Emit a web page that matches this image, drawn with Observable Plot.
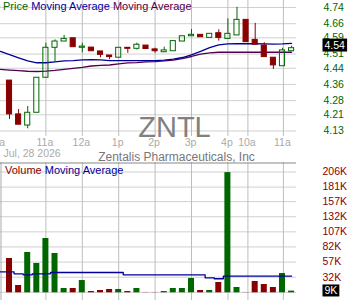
<!DOCTYPE html>
<html><head><meta charset="utf-8">
<script src="https://cdn.jsdelivr.net/npm/d3@7"></script>
<script src="https://cdn.jsdelivr.net/npm/@observablehq/plot@0.6"></script>
<style>
body{margin:0;background:#fff;}
#wrap{position:relative;width:350px;height:300px;overflow:hidden;font-family:"Liberation Sans",Arial,sans-serif;background:#fff;}
#price,#vol{position:absolute;left:0;}
#price{top:0}
#vol{top:162px}
.leg{position:absolute;left:3px;font-size:11px;line-height:11px;white-space:nowrap;}
</style></head><body>
<div id="wrap">
 <div id="price"></div><div id="vol"></div>
 <div class="leg" style="top:1px"><span style="color:#006600">Price</span> <span style="color:#000099">Moving Average</span> <span style="color:#550044">Moving Average</span></div>
 <div class="leg" style="top:165px;left:5px"><span style="color:#880000">Volume</span> <span style="color:#000099">Moving Average</span></div>
</div>
<script>
// ---- data ----
const opens  = [4.379,4.212,4.157,4.220,4.393,4.541,4.572,4.588,4.541,4.542,4.523,4.503,4.492,4.541,4.536,4.552,4.533,4.519,4.524,4.572,4.598,4.605,4.590,4.613,4.585,4.602,4.679,4.580,4.552,4.492,4.450,4.524];
const highs  = [4.379,4.236,4.251,4.393,4.564,4.580,4.602,4.588,4.564,4.542,4.523,4.503,4.541,4.541,4.564,4.552,4.539,4.544,4.574,4.598,4.631,4.605,4.610,4.630,4.684,4.741,4.679,4.662,4.566,4.492,4.539,4.549];
const lows   = [4.187,4.161,4.141,4.220,4.393,4.470,4.572,4.544,4.516,4.524,4.492,4.482,4.492,4.514,4.530,4.535,4.514,4.519,4.524,4.572,4.598,4.593,4.590,4.574,4.585,4.602,4.569,4.556,4.495,4.434,4.450,4.524];
const closes = [4.212,4.161,4.220,4.393,4.541,4.572,4.585,4.544,4.547,4.524,4.506,4.495,4.541,4.536,4.556,4.535,4.524,4.528,4.574,4.598,4.605,4.593,4.610,4.590,4.610,4.679,4.569,4.556,4.495,4.454,4.528,4.539];
const volumes = [62.9,18.3,72.9,54.7,96,71.2,13.3,13.3,26.5,8.3,10,11.7,11.7,8.3,13.3,6.5,6.5,8.3,13.3,13.3,29.9,10,10,23.2,205,15,6.5,24.9,19.9,15,38.1,9]; // thousands
// moving averages, index -1 .. 31
const priceMA1 = [4.523,4.507,4.491,4.476,4.467,4.467,4.471,4.476,4.478,4.481,4.482,4.481,4.478,4.478,4.478,4.478,4.478,4.478,4.480,4.485,4.493,4.506,4.523,4.542,4.555,4.560,4.561,4.561,4.561,4.560,4.559,4.560,4.563];
const priceMA2 = [4.434,4.431,4.428,4.425,4.424,4.426,4.429,4.434,4.439,4.444,4.451,4.454,4.456,4.462,4.466,4.468,4.471,4.473,4.476,4.480,4.488,4.498,4.510,4.516,4.519,4.519,4.519,4.519,4.519,4.519,4.519,4.519,4.519];
const volumeMA = [40.9,40.9,37.6,36,37.6,37.6,39.8,39.8,39.8,39.8,39.8,39.8,39.8,39.8,36,36,36,36,36,36,36,36,36,31,29.4,33.7,33.7,33.7,33.7,33.7,33.7,33.7,33.7];
const priceTicks = [4.13,4.21,4.28,4.36,4.44,4.51,4.59,4.66,4.74];
const volGridTicks = [7,32,57,82,107,132,157,181,206];
const volLabelTicks = [32,57,82,107,132,157,181,206];
const timeTickPos = [-1.35,4,8,12,16,20,24,26.2,30.1];
const timeTickLabels = ["10a","11a","12a","1p","2p","3p","4p","10a","11a"];
const dateLabel = "Jul, 28 2026";
const symbol = "ZNTL";
const company = "Zentalis Pharmaceuticals, Inc";

// ---- build ----
const GREEN = "#006600", RED = "#880000";
const FONT = "'Liberation Sans', Arial, sans-serif";
const candles = opens.map((o, i) => ({i, o, h: highs[i], l: lows[i], c: closes[i], up: closes[i] >= o, v: volumes[i]}));
const ma1 = priceMA1.map((v, k) => ({i: k - 1, v}));
const ma2 = priceMA2.map((v, k) => ({i: k - 1, v}));
const vma = volumeMA.map((v, k) => ({i: k - 1, v}));
const labelMap = new Map(timeTickPos.map((p, k) => [p, timeTickLabels[k]]));
const xDomain = [-0.99, 31.54];
const pDomain = [4.1028, 4.7746];
const vDomain = [6.2, 221.7];
const last = candles[candles.length - 1];
const hw = 0.28;

const price = Plot.plot({
  width: 350, height: 165, marginLeft: 0, marginRight: 54, marginTop: 0, marginBottom: 29,
  x: {domain: xDomain, axis: null, label: null},
  y: {domain: pDomain, axis: null, label: null},
  style: {fontFamily: FONT, fontSize: "10.5px", background: "transparent"},
  marks: [
    Plot.gridY(priceTicks, {stroke: "#d0d0d0", strokeOpacity: 1}),
    Plot.gridX(timeTickPos, {stroke: "#bdbdbd", strokeOpacity: 1}),
    Plot.text([symbol], {frameAnchor: "bottom", dx: 26, dy: -9, lineAnchor: "middle", fontSize: 29, fill: "#808080"}),
    Plot.axisY(priceTicks, {anchor: "right", label: null, tickSize: 0, tickPadding: 27, tickFormat: d => d.toFixed(2), fill: GREEN}),
    Plot.axisX(timeTickPos, {anchor: "bottom", label: null, tickSize: 0, tickPadding: 2.5, tickFormat: d => labelMap.get(d), fill: "#aaaaaa", dx: -1}),
    Plot.text([dateLabel], {frameAnchor: "bottom-left", dx: 3, dy: 17.3, lineAnchor: "middle", textAnchor: "start", fill: "#aaaaaa"}),
    Plot.text([company], {frameAnchor: "bottom", dx: 28, dy: 20.2, lineAnchor: "middle", fontSize: 12, fill: "#777777"}),
    Plot.line(ma2, {x: "i", y: "v", stroke: "#500050", strokeWidth: 1.3}),
    Plot.line(ma1, {x: "i", y: "v", stroke: "#000099", strokeWidth: 1.3}),
    Plot.ruleX(candles, {x: "i", y1: d => Math.max(d.o, d.c), y2: "h", stroke: d => d.up ? GREEN : RED}),
    Plot.ruleX(candles, {x: "i", y1: "l", y2: d => Math.min(d.o, d.c), stroke: d => d.up ? GREEN : RED}),
    Plot.rect(candles, {x1: d => d.i - hw, x2: d => d.i + hw, y1: "o", y2: "c",
      fill: d => d.up ? "none" : RED, stroke: d => d.up ? GREEN : RED, strokeWidth: 1}),
    Plot.text([last], {y: "c", frameAnchor: "right", dx: 28, dy: -2.5, textAnchor: "start", fill: "#fffffe", text: d => d.c.toFixed(2)})
  ]
});

const vol = Plot.plot({
  width: 350, height: 138, marginLeft: 0, marginRight: 54, marginTop: 0, marginBottom: 7.7,
  x: {domain: xDomain, axis: null, label: null},
  y: {domain: vDomain, axis: null, label: null},
  style: {fontFamily: FONT, fontSize: "10.5px", background: "transparent"},
  marks: [
    Plot.gridY(volGridTicks, {stroke: "#d0d0d0", strokeOpacity: 1}),
    Plot.ruleX(timeTickPos, {stroke: "#bdbdbd", insetBottom: -8}),
    Plot.ruleX([xDomain[0]], {stroke: "#aaaaaa", dx: 0.5, insetBottom: -8}),
    Plot.ruleY([vDomain[1]], {stroke: "#888888", dy: 0.5}),
    Plot.rect(candles, {x1: d => d.i - 0.33, x2: d => d.i + 0.33, y1: d => vDomain[0], y2: "v", fill: d => d.up ? GREEN : RED}),
    Plot.line(vma, {x: "i", y: "v", stroke: "#000099", strokeWidth: 1.3, curve: "step"}),
    Plot.axisY(volLabelTicks, {anchor: "right", label: null, tickSize: 0, tickPadding: 26, tickFormat: d => d + "K", fill: RED}),
    Plot.text([last], {y: "v", frameAnchor: "right", dx: 28, textAnchor: "start", fill: "#fffffe", text: d => Math.round(d.v) + "K"})
  ]
});

document.getElementById("price").appendChild(price);
document.getElementById("vol").appendChild(vol);

// draw a black box behind the highlighted last-value labels
function boxify(svg, padX, padY) {
  const g = svg.querySelector('g[fill="#fffffe"]');
  const t = g ? g.querySelector("text") : null;
  if (!t) return;
  const b = t.getBBox();
  const r = document.createElementNS("http://www.w3.org/2000/svg", "rect");
  r.setAttribute("x", b.x - padX);
  r.setAttribute("y", b.y - padY);
  r.setAttribute("width", b.width + 2 * padX);
  r.setAttribute("height", b.height + 2 * padY);
  r.setAttribute("fill", "black");
  if (t.getAttribute("transform")) r.setAttribute("transform", t.getAttribute("transform"));
  t.parentNode.insertBefore(r, t);
}
boxify(price, 2, 0.5);
boxify(vol, 2, 0);
</script>
</body></html>
